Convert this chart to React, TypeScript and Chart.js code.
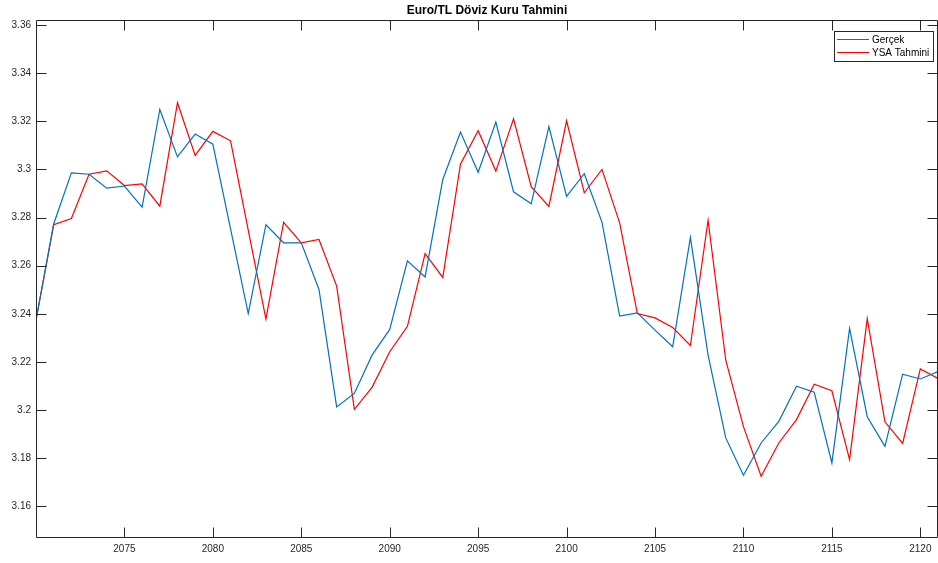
import React, { useEffect, useRef } from "react";
import { Chart, registerables } from "chart.js";

Chart.register(...registerables);

const years = [
  2070, 2071, 2072, 2073, 2074, 2075, 2076, 2077, 2078, 2079,
  2080, 2081, 2082, 2083, 2084, 2085, 2086, 2087, 2088, 2089,
  2090, 2091, 2092, 2093, 2094, 2095, 2096, 2097, 2098, 2099,
  2100, 2101, 2102, 2103, 2104, 2105, 2106, 2107, 2108, 2109,
  2110, 2111, 2112, 2113, 2114, 2115, 2116, 2117, 2118, 2119,
  2120, 2121,
];

const gercek = [
  3.2373, 3.2773, 3.2986, 3.298, 3.2922, 3.2931, 3.2843, 3.3249, 3.3052, 3.3147,
  3.3105, 3.2753, 3.2401, 3.277, 3.2695, 3.2695, 3.2501, 3.2013, 3.2069, 3.2228,
  3.2335, 3.262, 3.2553, 3.2958, 3.3155, 3.2988, 3.3197, 3.2907, 3.2857, 3.3178,
  3.2888, 3.2982, 3.2781, 3.239, 3.2404, 3.2332, 3.2263, 3.2717, 3.2228, 3.1884,
  3.1729, 3.1863, 3.1953, 3.2099, 3.2074, 3.178, 3.2339, 3.1972, 3.1849, 3.2149,
  3.2129, 3.216,
];

const ysaTahmini = [
  3.2373, 3.277, 3.2796, 3.298, 3.2994, 3.2933, 3.294, 3.2847, 3.3277, 3.3058,
  3.3158, 3.3119, 3.2748, 3.2378, 3.278, 3.2695, 3.2709, 3.2515, 3.2003, 3.2094,
  3.2242, 3.2348, 3.265, 3.2551, 3.3022, 3.3161, 3.2993, 3.321, 3.2928, 3.2846,
  3.3202, 3.2903, 3.3, 3.2778, 3.2401, 3.2383, 3.2343, 3.2268, 3.2789, 3.2207,
  3.1931, 3.1725, 3.1863, 3.196, 3.2107, 3.208, 3.1794, 3.238, 3.1951, 3.1861,
  3.2171, 3.2131,
];

const xTicks = [2075, 2080, 2085, 2090, 2095, 2100, 2105, 2110, 2115, 2120];
const yTicks = [3.16, 3.18, 3.2, 3.22, 3.24, 3.26, 3.28, 3.3, 3.32, 3.34, 3.36];

const titleText = "Euro/TL Döviz Kuru Tahmini";
const FONT = "'Liberation Sans', Arial, Helvetica, sans-serif";
const AXIS_COLOR = "#262626";

const boxPlugin = {
  id: "matlabBox",
  afterDraw(chart: any) {
    const ctx = chart.ctx as CanvasRenderingContext2D;
    const { left, right, top, bottom } = chart.chartArea;
    const xs = chart.scales.x;
    const ys = chart.scales.y;
    const L = Math.round(left) + 0.5;
    const R = Math.round(right) - 0.5;
    const T = Math.round(top) + 0.5;
    const B = Math.round(bottom) - 0.5;
    const tl = 10;
    ctx.save();
    ctx.strokeStyle = AXIS_COLOR;
    ctx.lineWidth = 1;
    ctx.beginPath();
    ctx.rect(L, T, R - L, B - T);
    for (const v of xTicks) {
      const px = Math.round(xs.getPixelForValue(v)) + 0.5;
      ctx.moveTo(px, B);
      ctx.lineTo(px, B - tl);
      ctx.moveTo(px, T);
      ctx.lineTo(px, T + tl);
    }
    for (const v of yTicks) {
      const py = Math.round(ys.getPixelForValue(v)) + 0.5;
      ctx.moveTo(L, py);
      ctx.lineTo(L + tl, py);
      ctx.moveTo(R, py);
      ctx.lineTo(R - tl, py);
    }
    ctx.stroke();

    // title
    ctx.fillStyle = "#000000";
    ctx.font = `bold 12px ${FONT}`;
    ctx.textAlign = "center";
    ctx.textBaseline = "middle";
    ctx.fillText(titleText, (left + right) / 2, 11);

    // legend
    const bx = 834.5, by = 31.5, bw = 99, bh = 30;
    ctx.fillStyle = "#ffffff";
    ctx.fillRect(bx, by, bw, bh);
    ctx.strokeStyle = AXIS_COLOR;
    ctx.strokeRect(bx, by, bw, bh);
    ctx.font = `10px ${FONT}`;
    ctx.textAlign = "left";
    ctx.textBaseline = "middle";
    chart.data.datasets.forEach((ds: any, i: number) => {
      const y = 39.5 + i * 13;
      ctx.strokeStyle = ds.borderColor;
      ctx.lineWidth = 1;
      ctx.beginPath();
      ctx.moveTo(837, y);
      ctx.lineTo(869, y);
      ctx.stroke();
      ctx.fillStyle = "#000000";
      ctx.fillText(ds.label, 872, y + 0.5);
    });
    ctx.restore();
  },
};

export default function App() {
  const ref = useRef<HTMLCanvasElement>(null);

  useEffect(() => {
    document.body.style.margin = "0";
    const canvas = ref.current!;
    const chart = new Chart(canvas, {
      type: "line",
      data: {
        datasets: [
          {
            label: "Gerçek",
            data: years.map((x, i) => ({ x, y: gercek[i] })),
            borderColor: "#0072BD",
            borderWidth: 1.2,
            pointRadius: 0,
            tension: 0,
            fill: false,
          },
          {
            label: "YSA Tahmini",
            data: years.map((x, i) => ({ x, y: ysaTahmini[i] })),
            borderColor: "#FF0000",
            borderWidth: 1.2,
            pointRadius: 0,
            tension: 0,
            fill: false,
          },
        ],
      },
      options: {
        animation: false,
        responsive: false,
        maintainAspectRatio: false,
        layout: { padding: { top: 20, right: 0, left: 0, bottom: 0 } },
        plugins: {
          legend: { display: false },
          title: { display: false },
          tooltip: { enabled: false },
        },
        scales: {
          x: {
            type: "linear",
            min: 2070,
            max: 2121,
            grid: { display: false, drawTicks: false },
            border: { display: false },
            afterBuildTicks: (s: any) => {
              s.ticks = xTicks.map((v) => ({ value: v }));
            },
            afterFit: (s: any) => {
              s.height = 25;
            },
            ticks: {
              autoSkip: false,
              maxRotation: 0,
              padding: 5,
              color: AXIS_COLOR,
              font: { family: FONT, size: 10 },
              callback: (v: any) => String(v),
            },
          },
          y: {
            type: "linear",
            min: 3.1468,
            max: 3.3621,
            grid: { display: false, drawTicks: false },
            border: { display: false },
            afterBuildTicks: (s: any) => {
              s.ticks = yTicks.map((v) => ({ value: v }));
            },
            afterFit: (s: any) => {
              s.width = 36;
            },
            ticks: {
              autoSkip: false,
              padding: 5,
              color: AXIS_COLOR,
              font: { family: FONT, size: 10 },
              callback: (v: any) => String(Number(Number(v).toFixed(2))),
            },
          },
        },
      },
      plugins: [boxPlugin],
    });
    return () => chart.destroy();
  }, []);

  return (
    <div style={{ width: 938, height: 563 }}>
      <canvas ref={ref} width={938} height={563} style={{ display: "block" }} />
    </div>
  );
}
